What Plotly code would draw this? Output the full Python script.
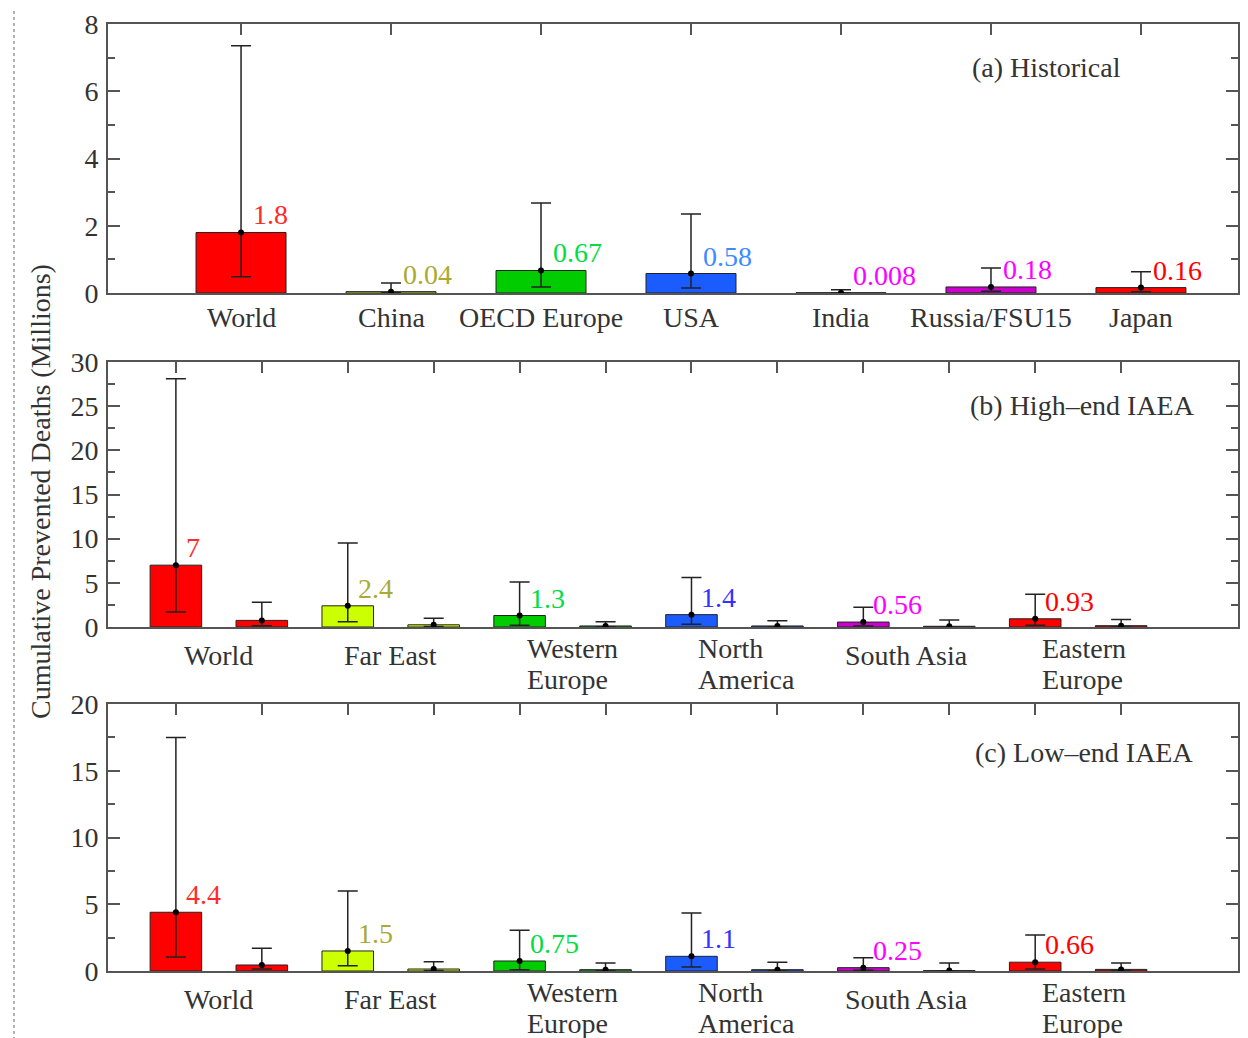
import plotly.graph_objects as go

FONT = "Liberation Serif"
W, H = 1248, 1038
OFF = 8  # page body margin compensation (px)

# ---------------- data ----------------
# Panel (a) Historical
a_cats = ["World", "China", "OECD Europe", "USA", "India", "Russia/FSU15", "Japan"]
a_vals = [1.8, 0.04, 0.67, 0.58, 0.008, 0.18, 0.16]
a_hi = [7.35, 0.30, 2.68, 2.35, 0.10, 0.74, 0.63]
a_lo = [0.48, 0.01, 0.18, 0.15, 0.002, 0.05, 0.04]
a_text = ["1.8", "0.04", "0.67", "0.58", "0.008", "0.18", "0.16"]

# Panels (b),(c): two bars per region
bc_groups = [["World"], ["Far East"], ["Western", "Europe"], ["North", "America"],
             ["South Asia"], ["Eastern", "Europe"]]

b_vals = [7.0, 0.75, 2.4, 0.25, 1.3, 0.12, 1.4, 0.12, 0.56, 0.08, 0.93, 0.15]
b_hi = [28.1, 2.8, 9.5, 1.0, 5.1, 0.6, 5.6, 0.7, 2.25, 0.8, 3.7, 0.85]
b_lo = [1.7, 0.15, 0.6, 0.05, 0.2, 0.02, 0.3, 0.02, 0.1, 0.01, 0.2, 0.03]
b_text = ["7", "2.4", "1.3", "1.4", "0.56", "0.93"]

c_vals = [4.4, 0.45, 1.5, 0.15, 0.75, 0.1, 1.1, 0.1, 0.25, 0.03, 0.66, 0.12]
c_hi = [17.5, 1.7, 6.0, 0.7, 3.05, 0.6, 4.35, 0.65, 1.0, 0.6, 2.7, 0.6]
c_lo = [1.05, 0.15, 0.4, 0.03, 0.1, 0.02, 0.3, 0.02, 0.05, 0.01, 0.15, 0.03]
c_text = ["4.4", "1.5", "0.75", "1.1", "0.25", "0.66"]

# colours
a_colors = ["#ff0000", "#ccff00", "#00cc00", "#1a5cff", "#cc00cc", "#cc00cc", "#ff0000"]
a_lbl_colors = ["#ff2a2a", "#aaaa33", "#00dd44", "#3b8cff", "#ff00ff", "#ff00ff", "#ff0000"]
g_colors = ["#ff0000", "#ccff00", "#00cc00", "#1a5cff", "#cc00cc", "#ff0000"]
g_lbl_colors = ["#ff2a2a", "#aaaa33", "#00dd44", "#3333ff", "#ff00ff", "#ff0000"]


# ---------------- layout geometry ----------------
def px(x):
    return (x - OFF) / W


def py(y):
    return 1 - (y - OFF) / H


x0p, x1p = px(108), px(1238)
doms = [(py(293), py(24)), (py(627), py(362)), (py(971), py(704))]
a_range = [-0.887, 6.647]
bc_range = [-0.79, 12.36]
FS = 28
TXT = "#333333"

fig = go.Figure()
ERR = "#222222"


def add_bars(xax, yax, xs, vals, lo, hi, colors):
    fig.add_trace(go.Bar(
        x=xs, y=vals, width=0.6, xaxis=xax, yaxis=yax,
        marker=dict(color=colors, line=dict(color="#222222", width=1)),
        error_y=dict(type="data", symmetric=False,
                     array=[h - v for h, v in zip(hi, vals)],
                     arrayminus=[v - l for v, l in zip(vals, lo)],
                     color=ERR, thickness=1.5, width=10),
        showlegend=False, hoverinfo="skip"))
    fig.add_trace(go.Scatter(
        x=xs, y=vals, mode="markers", xaxis=xax, yaxis=yax,
        marker=dict(color="black", size=6), showlegend=False, hoverinfo="skip"))


# panel a
a_x = list(range(len(a_cats)))
add_bars("x", "y", a_x, a_vals, a_lo, a_hi, a_colors)

# panels b, c
bc_x = list(range(len(b_vals)))
bc_colors = [g_colors[i // 2] for i in bc_x]
add_bars("x2", "y2", bc_x, b_vals, b_lo, b_hi, bc_colors)
add_bars("x3", "y3", bc_x, c_vals, c_lo, c_hi, bc_colors)

# invisible traces for top-tick overlay axes
fig.add_trace(go.Scatter(x=a_x, y=[None] * len(a_x), xaxis="x4", yaxis="y", showlegend=False, hoverinfo="skip"))
fig.add_trace(go.Scatter(x=bc_x, y=[None] * len(bc_x), xaxis="x5", yaxis="y2", showlegend=False, hoverinfo="skip"))
fig.add_trace(go.Scatter(x=bc_x, y=[None] * len(bc_x), xaxis="x6", yaxis="y3", showlegend=False, hoverinfo="skip"))

LINE = "#555555"
tickfont = dict(family=FONT, size=FS, color=TXT)


def xaxis(anchor, rng, tickvals):
    return dict(domain=[x0p, x1p], anchor=anchor, range=rng, tickvals=tickvals,
                ticks="", showline=True, mirror=True, linecolor=LINE, linewidth=2,
                showticklabels=False, automargin=False,
                showgrid=False, zeroline=False)


def topaxis(over, anchor, rng, tickvals):
    return dict(overlaying=over, side="top", anchor=anchor, range=rng, tickvals=tickvals,
                ticks="inside", ticklen=11, tickwidth=2, tickcolor=LINE, automargin=False,
                showticklabels=False, showline=False, showgrid=False, zeroline=False)


def yaxis(anchor, dom, rng, dtick, minor):
    return dict(domain=list(dom), anchor=anchor, range=rng, dtick=dtick, tick0=0,
                ticks="inside", ticklen=12, tickwidth=2, tickcolor=LINE,
                minor=dict(dtick=minor, tick0=0, ticks="inside", ticklen=7, tickwidth=2, tickcolor=LINE),
                showline=True, mirror="ticks", linecolor=LINE, linewidth=2, automargin=False,
                showgrid=False, zeroline=False, tickfont=tickfont, ticklabelstandoff=2)


group_centers = [2 * i + 0.5 for i in range(len(bc_groups))]

fig.update_layout(
    template="none",
    width=W, height=H, margin=dict(l=0, r=0, t=0, b=0, autoexpand=False),
    paper_bgcolor="white", plot_bgcolor="white", barmode="overlay",
    font=dict(family=FONT, color=TXT),
    xaxis=xaxis("y", a_range, a_x),
    xaxis2=xaxis("y2", bc_range, group_centers),
    xaxis3=xaxis("y3", bc_range, group_centers),
    xaxis4=topaxis("x", "y", a_range, a_x),
    xaxis5=topaxis("x2", "y2", bc_range, bc_x),
    xaxis6=topaxis("x3", "y3", bc_range, bc_x),
    yaxis=yaxis("x", doms[0], [0, 8], 2, 1),
    yaxis2=yaxis("x2", doms[1], [0, 30], 5, 2.5),
    yaxis3=yaxis("x3", doms[2], [0, 20], 5, 2.5),
)

ann = []
# panel (a) value labels and category labels
for i, t in enumerate(a_text):
    ann.append(dict(x=a_x[i], y=a_vals[i], xref="x", yref="y", text=t, showarrow=False,
                    xanchor="left", yanchor="bottom", xshift=10, yshift=0,
                    font=dict(family=FONT, size=FS, color=a_lbl_colors[i])))
for i, c in enumerate(a_cats):
    ann.append(dict(x=a_x[i], y=0, xref="x", yref="y domain", text=c, showarrow=False,
                    xanchor="center", yanchor="middle", yshift=-25, font=tickfont))

for xr, yr, vals, texts in (("x2", "y2", b_vals, b_text), ("x3", "y3", c_vals, c_text)):
    for k, t in enumerate(texts):
        i = 2 * k
        ann.append(dict(x=bc_x[i], y=vals[i], xref=xr, yref=yr, text=t, showarrow=False,
                        xanchor="left", yanchor="bottom", xshift=8, yshift=0,
                        font=dict(family=FONT, size=FS, color=g_lbl_colors[k])))
    # group (category) labels beneath the axis
    for g, lines in enumerate(bc_groups):
        if len(lines) == 1:
            ann.append(dict(x=group_centers[g], y=0, xref=xr, yref=yr + " domain", text=lines[0],
                            showarrow=False, xanchor="center", yanchor="middle", yshift=-28,
                            font=tickfont))
        else:
            for j, ln in enumerate(lines):
                ann.append(dict(x=group_centers[g], y=0, xref=xr, yref=yr + " domain", text=ln,
                                showarrow=False, xanchor="left", yanchor="middle",
                                xshift=-38, yshift=-21 - 31 * j, font=tickfont))

titles = [("(a) Historical", 1123, 68),
          ("(b) High\u2013end IAEA", 1197, 406),
          ("(c) Low\u2013end IAEA", 1195, 752)]
for t, x, y in titles:
    ann.append(dict(x=px(x), y=py(y), xref="paper", yref="paper", text=t, showarrow=False,
                    xanchor="right", yanchor="middle",
                    font=dict(family=FONT, size=FS, color=TXT)))

ann.append(dict(x=px(40), y=py(492), xref="paper", yref="paper",
                text="Cumulative Prevented Deaths (Millions)", showarrow=False, textangle=-90,
                xanchor="center", yanchor="middle",
                font=dict(family=FONT, size=FS, color=TXT)))
fig.update_layout(annotations=ann)

fig.add_shape(type="line", xref="paper", yref="paper", x0=px(14), x1=px(14), y0=0, y1=1,
              line=dict(color="#999999", width=1.5, dash="dot"))

fig.write_html("out.html")
